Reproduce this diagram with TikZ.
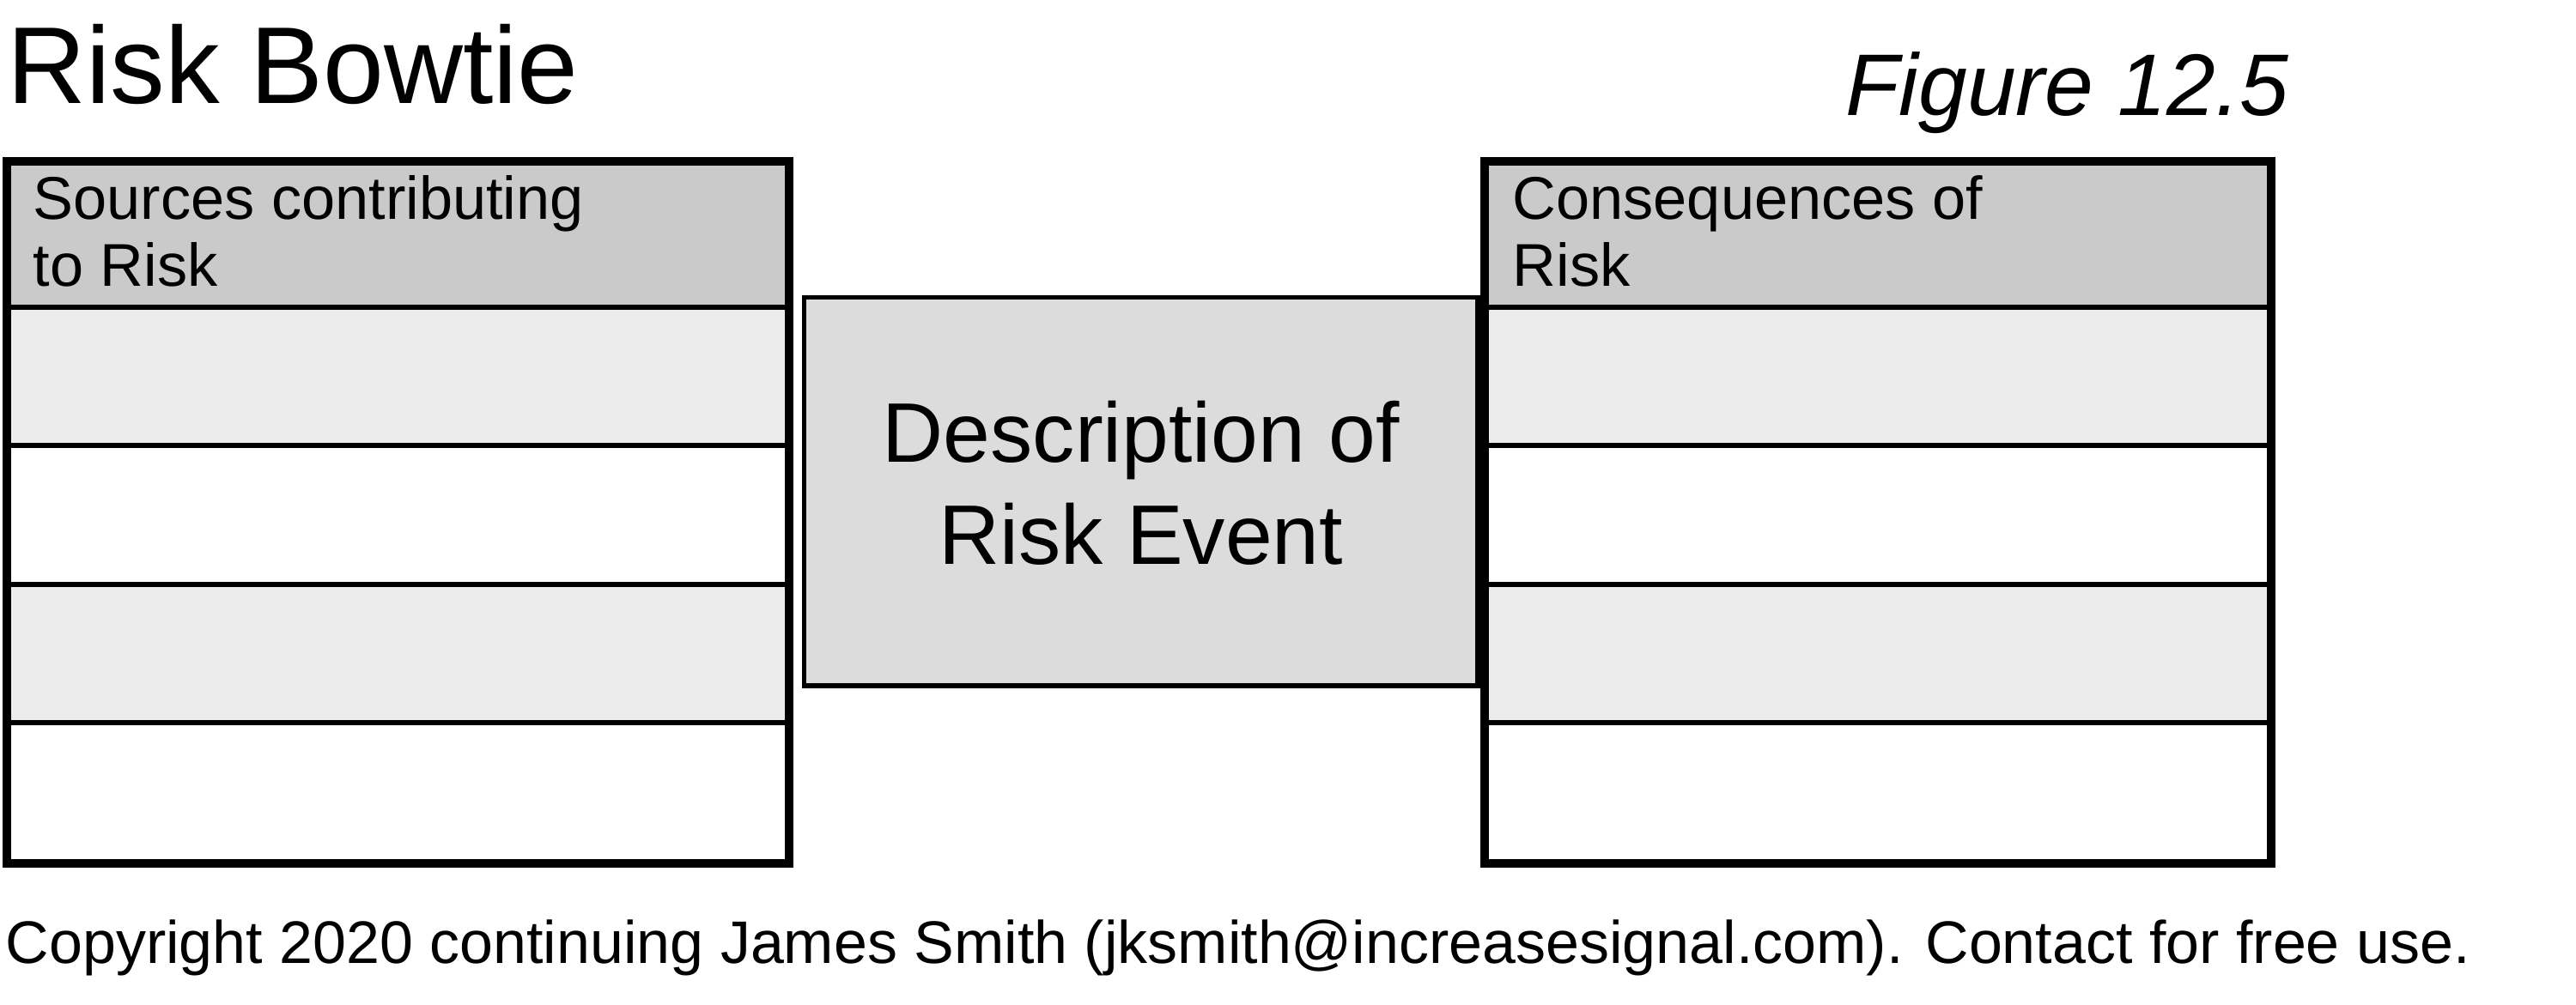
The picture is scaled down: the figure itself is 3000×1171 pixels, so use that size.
\documentclass[tikz,border=0pt]{standalone}
\usepackage{fontspec}
\setmainfont{Liberation Sans}
\usetikzlibrary{fit}
\definecolor{hdr}{HTML}{CACACA}
\definecolor{lite}{HTML}{ECECEC}
\definecolor{evt}{HTML}{DCDCDC}
\begin{document}
\begin{tikzpicture}[x=0.01cm,y=-0.01cm,
  cellbase/.style={draw=black, line width=1.7pt, inner sep=0pt, anchor=north west},
  lhdr/.style={cellbase, fill=hdr, minimum width=9.06cm, minimum height=1.68cm},
  lrowA/.style={cellbase, fill=lite, minimum width=9.06cm, minimum height=1.615cm},
  lrowB/.style={cellbase, fill=white, minimum width=9.06cm, minimum height=1.615cm},
  rhdr/.style={cellbase, fill=hdr, minimum width=9.11cm, minimum height=1.68cm},
  rrowA/.style={cellbase, fill=lite, minimum width=9.11cm, minimum height=1.615cm},
  rrowB/.style={cellbase, fill=white, minimum width=9.11cm, minimum height=1.615cm},
  frame/.style={draw=black, line width=2.5pt, inner sep=0pt},
  hdrtext/.style={anchor=north west, inner sep=0pt, align=left, font=\fontsize{20}{22.2}\selectfont},
  event/.style={draw=black, line width=1.5pt, fill=evt, anchor=north west, minimum width=7.84cm, minimum height=4.52cm, inner sep=0pt},
  eventtext/.style={align=center, inner sep=0pt, font=\fontsize{28}{33.6}\selectfont}
]
\useasboundingbox (0,0) rectangle (3000,1171);
% titles
\node[anchor=base west, inner sep=0pt, font=\fontsize{36.2}{40}\selectfont] (title) at (8,121) {Risk Bowtie};
\node[anchor=base east, inner sep=0pt, font=\fontsize{29}{34}\selectfont\itshape] (fig) at (2666,135) {Figure 12.5};
% left table
\node[lhdr] (lh) at (7,187) {};
\node[lrowA] (l1) at (7,355) {};
\node[lrowB] (l2) at (7,516.5) {};
\node[lrowA] (l3) at (7,678) {};
\node[lrowB] (l4) at (7,839.5) {};
\node[frame, fit=(lh)(l4)] (lt) {};
\node[hdrtext] (lht) at (38,204) {Sources contributing\\to Risk};
% right table
\node[rhdr] (rh) at (1728,187) {};
\node[rrowA] (r1) at (1728,355) {};
\node[rrowB] (r2) at (1728,516.5) {};
\node[rrowA] (r3) at (1728,678) {};
\node[rrowB] (r4) at (1728,839.5) {};
\node[frame, fit=(rh)(r4)] (rt) {};
\node[hdrtext] (rht) at (1761,204) {Consequences of\\Risk};
% event
\node[event] (ev) at (934,344) {};
\node[eventtext, yshift=2.85pt] (evtext) at (ev.center) {Description of\\Risk Event};
% copyright
\node[anchor=base west, inner sep=0pt, font=\fontsize{19.9}{22}\selectfont] (copy) at (6,1123) {Copyright 2020 continuing James Smith (jksmith@increasesignal.com). Contact for free use.};
\end{tikzpicture}
\end{document}
